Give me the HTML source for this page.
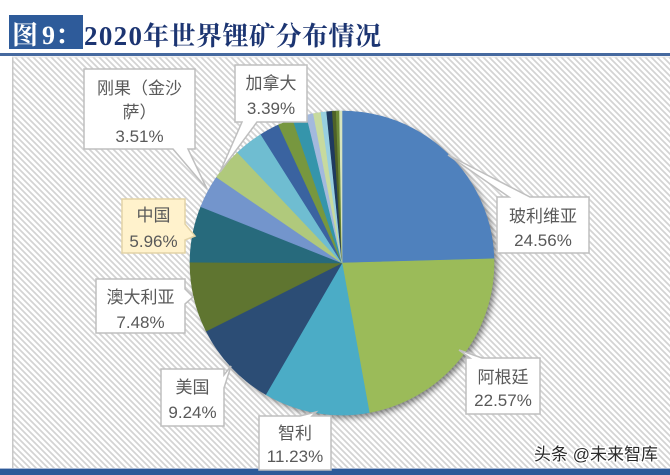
<!DOCTYPE html>
<html>
<head>
<meta charset="utf-8">
<style>
html,body{margin:0;padding:0;background:#fff;}
body{width:670px;height:475px;overflow:hidden;}
svg{display:block;}
.lb{font-family:"Liberation Sans","Noto Sans CJK SC",sans-serif;font-size:17px;fill:#595959;text-anchor:middle;}
</style>
</head>
<body>
<svg width="670" height="475" viewBox="0 0 670 475" xmlns="http://www.w3.org/2000/svg">
  <defs>
    <pattern id="hatch" patternUnits="userSpaceOnUse" width="6" height="6">
      <rect width="6" height="6" fill="#ffffff"/>
      <path d="M0,0 L6,6 M-1,5 L1,7 M5,-1 L7,1" stroke="#d3d3d3" stroke-width="1.7"/>
    </pattern>
    <filter id="sh" x="-20%" y="-20%" width="140%" height="140%">
      <feDropShadow dx="3" dy="3" stdDeviation="3" flood-color="#000" flood-opacity="0.45"/>
    </filter>
  </defs>

  <!-- white page -->
  <rect x="0" y="0" width="670" height="475" fill="#ffffff"/>

  <!-- title -->
  <rect x="9" y="15" width="74" height="34" fill="#2e5b9a"/>
  <text x="12" y="44" font-family="'Liberation Serif','Noto Serif CJK SC',serif" font-weight="bold" font-size="26" fill="#ffffff">图</text>
  <text x="42" y="44" font-family="'Liberation Serif','Noto Serif CJK SC',serif" font-weight="bold" font-size="26" fill="#ffffff">9：</text>
  <text x="84" y="45" font-family="'Liberation Serif',serif" font-weight="bold" font-size="27" fill="#1c3572" textLength="58" lengthAdjust="spacing">2020</text>
  <text x="143" y="45" font-family="'Liberation Serif','Noto Serif CJK SC',serif" font-weight="bold" font-size="26" fill="#1c3572" textLength="238" lengthAdjust="spacing">年世界锂矿分布情况</text>

  <!-- blue rule -->
  <rect x="0" y="53" width="670" height="3" fill="#46699f"/>

  <!-- chart panel -->
  <rect x="12" y="57" width="658" height="412" fill="url(#hatch)"/>
  <rect x="12" y="57" width="1.5" height="412" fill="#c8c8c8"/>
  <rect x="12" y="56.5" width="658" height="1" fill="#e4e4e4"/>

  <!-- bottom bar -->
  <rect x="0" y="468" width="670" height="1.5" fill="#a9bad6"/>
  <rect x="0" y="469" width="670" height="6" fill="#2d5a98"/>

  <!-- pie -->
  <g filter="url(#sh)">
    <circle cx="342" cy="263" r="152" fill="#4F81BD"/>
  </g>
  <g stroke-width="0.6" stroke-linejoin="round">
    <path d="M342,263 L342,111 A152,152 0 0 1 493.94,258.80 Z" fill="#4F81BD" stroke="#4F81BD"/>
    <path d="M342,263 L493.94,258.80 A152,152 0 0 1 369.26,412.54 Z" fill="#9BBB59" stroke="#9BBB59"/>
    <path d="M342,263 L369.26,412.54 A152,152 0 0 1 265.78,394.51 Z" fill="#4BACC6" stroke="#4BACC6"/>
    <path d="M342,263 L265.78,394.51 A152,152 0 0 1 206.14,331.15 Z" fill="#2C4D75" stroke="#2C4D75"/>
    <path d="M342,263 L206.14,331.15 A152,152 0 0 1 190.00,262.24 Z" fill="#5F7530" stroke="#5F7530"/>
    <path d="M342,263 L190.00,262.24 A152,152 0 0 1 200.82,206.69 Z" fill="#276A7C" stroke="#276A7C"/>
    <path d="M342,263 L200.82,206.69 A152,152 0 0 1 216.55,177.17 Z" fill="#7395CC" stroke="#7395CC"/>
    <path d="M342,263 L216.55,177.17 A152,152 0 0 1 237.55,152.57 Z" fill="#B0C97C" stroke="#B0C97C"/>
    <path d="M342,263 L237.55,152.57 A152,152 0 0 1 260.88,134.46 Z" fill="#6FBDD1" stroke="#6FBDD1"/>
    <path d="M342,263 L260.88,134.46 A152,152 0 0 1 278.51,124.90 Z" fill="#3A63A0" stroke="#3A63A0"/>
    <path d="M342,263 L278.51,124.90 A152,152 0 0 1 292.68,119.23 Z" fill="#77973F" stroke="#77973F"/>
    <path d="M342,263 L292.68,119.23 A152,152 0 0 1 306.42,115.22 Z" fill="#3595AB" stroke="#3595AB"/>
    <path d="M342,263 L306.42,115.22 A152,152 0 0 1 313.42,113.71 Z" fill="#A3B9DD" stroke="#A3B9DD"/>
    <path d="M342,263 L313.42,113.71 A152,152 0 0 1 320.96,112.46 Z" fill="#C7DA9E" stroke="#C7DA9E"/>
    <path d="M342,263 L320.96,112.46 A152,152 0 0 1 326.65,111.78 Z" fill="#98CFE0" stroke="#98CFE0"/>
    <path d="M342,263 L326.65,111.78 A152,152 0 0 1 332.36,111.31 Z" fill="#1F3A5F" stroke="#1F3A5F"/>
    <path d="M342,263 L332.36,111.31 A152,152 0 0 1 336.18,111.11 Z" fill="#4F6228" stroke="#4F6228"/>
    <path d="M342,263 L336.18,111.11 A152,152 0 0 1 339.52,111.02 Z" fill="#6D8A36" stroke="#6D8A36"/>
    <path d="M342,263 L339.52,111.02 A152,152 0 0 1 342,111 Z" fill="#D7E4BD" stroke="#D7E4BD"/>
  </g>

  <!-- callouts -->
  <g stroke="#bfbfbf" stroke-width="1.5" fill="#ffffff" stroke-linejoin="miter">
    <!-- 刚果 -->
    <path d="M84,69 L195,69 L195,149 L188,149 L207,189 L173,149 L84,149 Z"/>
    <!-- 加拿大 -->
    <path d="M235,65 L307,65 L307,122 L257,122 L220,172 L242,122 L235,122 Z"/>
    <!-- 中国 -->
    <path d="M122,199 L185,199 L185,224 L195,236 L185,240 L185,253 L122,253 Z" fill="#FFF2CC" stroke="#E3D3A6"/>
    <!-- 澳大利亚 -->
    <path d="M96,279 L185,279 L185,289 L193,297 L185,304 L185,333 L96,333 Z"/>
    <!-- 美国 -->
    <path d="M161,369 L224,369 L224,375 L231,366 L224,388 L224,426 L161,426 Z"/>
    <!-- 智利 -->
    <path d="M259,416 L300,416 L316,412 L312,416 L331,416 L331,470 L259,470 Z"/>
    <!-- 阿根廷 -->
    <path d="M466,358 L470,358 L459,350 L482,358 L540,358 L540,414 L466,414 Z"/>
    <!-- 玻利维亚 -->
    <path d="M497,197 L509,197 L448,155 L530,197 L589,197 L589,253 L497,253 Z"/>
  </g>

  <text class="lb" x="139.5" y="94">刚果（金沙</text>
  <text class="lb" x="139.5" y="118">萨）</text>
  <text class="lb" x="139.5" y="142">3.51%</text>

  <text class="lb" x="271" y="89">加拿大</text>
  <text class="lb" x="271" y="114">3.39%</text>

  <text class="lb" x="153.5" y="221">中国</text>
  <text class="lb" x="153.5" y="247">5.96%</text>

  <text class="lb" x="140.5" y="303">澳大利亚</text>
  <text class="lb" x="140.5" y="328">7.48%</text>

  <text class="lb" x="192.5" y="393">美国</text>
  <text class="lb" x="192.5" y="418">9.24%</text>

  <text class="lb" x="295" y="439">智利</text>
  <text class="lb" x="295" y="462">11.23%</text>

  <text class="lb" x="503" y="383">阿根廷</text>
  <text class="lb" x="503" y="406">22.57%</text>

  <text class="lb" x="543" y="222">玻利维亚</text>
  <text class="lb" x="543" y="246">24.56%</text>

  <!-- watermark -->
  <text x="534" y="460" font-family="'Liberation Sans','Noto Sans CJK SC',sans-serif" font-size="17" fill="#2a2a2a" stroke="#ffffff" stroke-width="2.5" paint-order="stroke" textLength="124" lengthAdjust="spacingAndGlyphs">头条 @未来智库</text>
</svg>
</body>
</html>
